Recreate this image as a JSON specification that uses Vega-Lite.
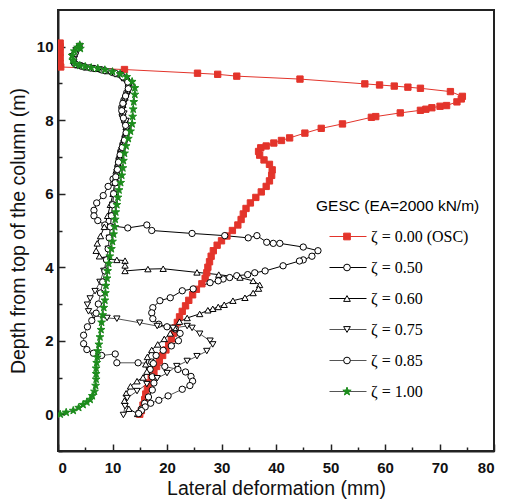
{
"$schema": "https://vega.github.io/schema/vega-lite/v6.json",
"width": 436, "height": 441,
"autosize": {"type": "none"},
"padding": {"left": 58, "top": 10, "right": 12, "bottom": 53},
"config": {
  "view": {"stroke": "#222", "strokeWidth": 2},
  "axis": {"labelFont": "Liberation Sans", "labelFontWeight": "bold", "labelFontSize": 15, "labelColor": "#111",
           "titleFont": "Liberation Sans", "titleFontWeight": "normal", "titleFontSize": 19.5, "titleColor": "#111",
           "domainColor": "#222", "domainWidth": 2, "tickColor": "#222", "tickWidth": 1.5, "grid": false},
  "legend": {"titleFont": "Liberation Sans", "titleFontSize": 15.5, "titleFontWeight": "normal", "titleColor": "#000",
             "labelFont": "Liberation Serif", "labelFontSize": 16, "labelColor": "#000",
             "symbolStrokeWidth": 1, "padding": 0}
},
"data": {"values": [
{"s":"0.00","x":15.0,"y":0.0},{"s":"0.00","x":15.3,"y":0.1},{"s":"0.00","x":15.6,"y":0.25},{"s":"0.00","x":15.9,"y":0.4},{"s":"0.00","x":16.1,"y":0.55},{"s":"0.00","x":16.4,"y":0.7},{"s":"0.00","x":16.7,"y":0.85},{"s":"0.00","x":17.1,"y":1.0},{"s":"0.00","x":17.6,"y":1.15},{"s":"0.00","x":18.1,"y":1.3},{"s":"0.00","x":18.6,"y":1.45},{"s":"0.00","x":19.2,"y":1.6},{"s":"0.00","x":19.8,"y":1.75},{"s":"0.00","x":20.3,"y":1.9},{"s":"0.00","x":20.8,"y":2.05},{"s":"0.00","x":21.2,"y":2.2},{"s":"0.00","x":21.5,"y":2.35},{"s":"0.00","x":21.9,"y":2.5},{"s":"0.00","x":22.3,"y":2.65},{"s":"0.00","x":22.8,"y":2.8},{"s":"0.00","x":23.4,"y":2.95},{"s":"0.00","x":24.0,"y":3.1},{"s":"0.00","x":24.7,"y":3.25},{"s":"0.00","x":25.4,"y":3.4},{"s":"0.00","x":26.4,"y":3.55},{"s":"0.00","x":27.0,"y":3.7},{"s":"0.00","x":27.3,"y":3.85},{"s":"0.00","x":27.5,"y":4.0},{"s":"0.00","x":27.8,"y":4.15},{"s":"0.00","x":28.1,"y":4.3},{"s":"0.00","x":28.5,"y":4.45},{"s":"0.00","x":29.2,"y":4.6},{"s":"0.00","x":30.0,"y":4.72},{"s":"0.00","x":31.0,"y":4.85},{"s":"0.00","x":32.0,"y":5.0},{"s":"0.00","x":33.0,"y":5.15},{"s":"0.00","x":33.6,"y":5.3},{"s":"0.00","x":34.0,"y":5.45},{"s":"0.00","x":34.5,"y":5.6},{"s":"0.00","x":35.3,"y":5.75},{"s":"0.00","x":36.3,"y":5.9},{"s":"0.00","x":37.3,"y":6.05},{"s":"0.00","x":38.2,"y":6.2},{"s":"0.00","x":38.8,"y":6.35},{"s":"0.00","x":39.2,"y":6.5},{"s":"0.00","x":39.3,"y":6.65},{"s":"0.00","x":38.8,"y":6.8},{"s":"0.00","x":37.8,"y":6.92},{"s":"0.00","x":37.0,"y":7.05},{"s":"0.00","x":36.8,"y":7.15},{"s":"0.00","x":37.2,"y":7.25},{"s":"0.00","x":38.2,"y":7.3},{"s":"0.00","x":39.6,"y":7.38},{"s":"0.00","x":41.0,"y":7.45},{"s":"0.00","x":42.5,"y":7.52},{"s":"0.00","x":45.3,"y":7.65},{"s":"0.00","x":48.3,"y":7.78},{"s":"0.00","x":52.2,"y":7.9},{"s":"0.00","x":57.5,"y":8.08},{"s":"0.00","x":58.3,"y":8.1},{"s":"0.00","x":62.8,"y":8.2},{"s":"0.00","x":66.5,"y":8.27},{"s":"0.00","x":67.5,"y":8.3},{"s":"0.00","x":68.6,"y":8.34},{"s":"0.00","x":70.1,"y":8.38},{"s":"0.00","x":71.3,"y":8.4},{"s":"0.00","x":73.2,"y":8.5},{"s":"0.00","x":74.0,"y":8.58},{"s":"0.00","x":74.2,"y":8.65},{"s":"0.00","x":72.0,"y":8.78},{"s":"0.00","x":66.5,"y":8.87},{"s":"0.00","x":64.2,"y":8.9},{"s":"0.00","x":61.7,"y":8.93},{"s":"0.00","x":59.0,"y":8.96},{"s":"0.00","x":56.3,"y":8.99},{"s":"0.00","x":44.4,"y":9.12},{"s":"0.00","x":32.8,"y":9.2},{"s":"0.00","x":29.3,"y":9.25},{"s":"0.00","x":25.6,"y":9.28},{"s":"0.00","x":12.2,"y":9.38},{"s":"0.00","x":0.5,"y":9.45},{"s":"0.00","x":0.4,"y":9.55},{"s":"0.00","x":0.4,"y":9.7},{"s":"0.00","x":0.4,"y":9.85},{"s":"0.00","x":0.4,"y":10.0},{"s":"0.00","x":0.4,"y":10.1},

{"s":"0.50","x":3.9,"y":10.0},{"s":"0.50","x":3.2,"y":9.85},{"s":"0.50","x":2.8,"y":9.7},{"s":"0.50","x":3.0,"y":9.55},{"s":"0.50","x":4.3,"y":9.47},{"s":"0.50","x":6.0,"y":9.42},{"s":"0.50","x":8.0,"y":9.37},{"s":"0.50","x":10.0,"y":9.3},{"s":"0.50","x":11.6,"y":9.22},{"s":"0.50","x":12.6,"y":9.1},{"s":"0.50","x":13.0,"y":8.95},{"s":"0.50","x":12.6,"y":8.75},{"s":"0.50","x":12.1,"y":8.55},{"s":"0.50","x":11.7,"y":8.35},{"s":"0.50","x":11.8,"y":8.15},{"s":"0.50","x":12.3,"y":7.95},{"s":"0.50","x":12.6,"y":7.75},{"s":"0.50","x":12.3,"y":7.55},{"s":"0.50","x":11.9,"y":7.35},{"s":"0.50","x":11.5,"y":7.15},{"s":"0.50","x":11.2,"y":6.95},{"s":"0.50","x":11.0,"y":6.75},{"s":"0.50","x":10.7,"y":6.55},{"s":"0.50","x":10.1,"y":6.4},{"s":"0.50","x":9.2,"y":6.2},{"s":"0.50","x":8.3,"y":5.95},{"s":"0.50","x":7.1,"y":5.75},{"s":"0.50","x":6.6,"y":5.55},{"s":"0.50","x":6.6,"y":5.4},{"s":"0.50","x":7.3,"y":5.27},{"s":"0.50","x":8.6,"y":5.15},{"s":"0.50","x":12.8,"y":5.07},{"s":"0.50","x":16.3,"y":5.15},{"s":"0.50","x":17.2,"y":5.0},{"s":"0.50","x":24.6,"y":4.92},{"s":"0.50","x":30.6,"y":4.86},{"s":"0.50","x":34.9,"y":4.8},{"s":"0.50","x":36.5,"y":4.86},{"s":"0.50","x":38.3,"y":4.68},{"s":"0.50","x":39.5,"y":4.65},{"s":"0.50","x":40.7,"y":4.65},{"s":"0.50","x":45.0,"y":4.55},{"s":"0.50","x":47.7,"y":4.45},{"s":"0.50","x":46.6,"y":4.3},{"s":"0.50","x":45.0,"y":4.2},{"s":"0.50","x":44.3,"y":4.17},{"s":"0.50","x":41.3,"y":4.04},{"s":"0.50","x":38.0,"y":3.9},{"s":"0.50","x":36.1,"y":3.85},{"s":"0.50","x":34.8,"y":3.8},{"s":"0.50","x":32.8,"y":3.77},{"s":"0.50","x":31.5,"y":3.72},{"s":"0.50","x":30.3,"y":3.68},{"s":"0.50","x":29.4,"y":3.63},{"s":"0.50","x":27.9,"y":3.58},{"s":"0.50","x":24.8,"y":3.41},{"s":"0.50","x":22.8,"y":3.36},{"s":"0.50","x":20.6,"y":3.17},{"s":"0.50","x":18.7,"y":3.09},{"s":"0.50","x":17.4,"y":2.9},{"s":"0.50","x":17.2,"y":2.76},{"s":"0.50","x":17.4,"y":2.6},{"s":"0.50","x":18.5,"y":2.45},{"s":"0.50","x":20.0,"y":2.38},{"s":"0.50","x":21.5,"y":2.32},{"s":"0.50","x":22.4,"y":2.2},{"s":"0.50","x":22.1,"y":2.0},{"s":"0.50","x":20.8,"y":1.86},{"s":"0.50","x":19.3,"y":1.74},{"s":"0.50","x":18.0,"y":1.6},{"s":"0.50","x":17.2,"y":1.42},{"s":"0.50","x":16.9,"y":1.22},{"s":"0.50","x":17.3,"y":1.02},{"s":"0.50","x":17.6,"y":0.85},{"s":"0.50","x":17.3,"y":0.66},{"s":"0.50","x":16.6,"y":0.47},{"s":"0.50","x":15.9,"y":0.3},{"s":"0.50","x":15.3,"y":0.14},{"s":"0.50","x":14.8,"y":0.03},

{"s":"0.60","x":3.8,"y":9.98},{"s":"0.60","x":3.0,"y":9.8},{"s":"0.60","x":2.9,"y":9.62},{"s":"0.60","x":3.6,"y":9.5},{"s":"0.60","x":5.2,"y":9.44},{"s":"0.60","x":7.0,"y":9.4},{"s":"0.60","x":9.1,"y":9.34},{"s":"0.60","x":10.9,"y":9.26},{"s":"0.60","x":12.2,"y":9.15},{"s":"0.60","x":12.9,"y":9.0},{"s":"0.60","x":12.8,"y":8.82},{"s":"0.60","x":12.3,"y":8.62},{"s":"0.60","x":11.9,"y":8.42},{"s":"0.60","x":11.9,"y":8.22},{"s":"0.60","x":12.2,"y":8.02},{"s":"0.60","x":12.5,"y":7.82},{"s":"0.60","x":12.4,"y":7.62},{"s":"0.60","x":12.0,"y":7.42},{"s":"0.60","x":11.6,"y":7.22},{"s":"0.60","x":11.3,"y":7.02},{"s":"0.60","x":11.0,"y":6.82},{"s":"0.60","x":10.8,"y":6.6},{"s":"0.60","x":10.4,"y":6.3},{"s":"0.60","x":10.1,"y":6.0},{"s":"0.60","x":9.6,"y":5.7},{"s":"0.60","x":9.1,"y":5.4},{"s":"0.60","x":8.5,"y":5.1},{"s":"0.60","x":7.8,"y":4.85},{"s":"0.60","x":7.2,"y":4.65},{"s":"0.60","x":7.0,"y":4.45},{"s":"0.60","x":7.6,"y":4.3},{"s":"0.60","x":9.0,"y":4.22},{"s":"0.60","x":10.8,"y":4.2},{"s":"0.60","x":12.3,"y":4.18},{"s":"0.60","x":12.3,"y":4.05},{"s":"0.60","x":12.3,"y":3.9},{"s":"0.60","x":16.5,"y":3.95},{"s":"0.60","x":19.3,"y":3.96},{"s":"0.60","x":25.5,"y":3.86},{"s":"0.60","x":29.5,"y":3.8},{"s":"0.60","x":33.4,"y":3.72},{"s":"0.60","x":35.8,"y":3.63},{"s":"0.60","x":37.0,"y":3.52},{"s":"0.60","x":36.8,"y":3.42},{"s":"0.60","x":35.8,"y":3.3},{"s":"0.60","x":34.3,"y":3.17},{"s":"0.60","x":32.1,"y":3.09},{"s":"0.60","x":30.5,"y":2.98},{"s":"0.60","x":29.4,"y":2.92},{"s":"0.60","x":28.4,"y":2.87},{"s":"0.60","x":27.5,"y":2.83},{"s":"0.60","x":26.0,"y":2.73},{"s":"0.60","x":23.7,"y":2.62},{"s":"0.60","x":22.3,"y":2.52},{"s":"0.60","x":21.4,"y":2.35},{"s":"0.60","x":20.6,"y":2.2},{"s":"0.60","x":19.5,"y":2.05},{"s":"0.60","x":18.3,"y":1.9},{"s":"0.60","x":17.2,"y":1.75},{"s":"0.60","x":16.4,"y":1.56},{"s":"0.60","x":16.1,"y":1.36},{"s":"0.60","x":16.3,"y":1.16},{"s":"0.60","x":15.6,"y":1.0},{"s":"0.60","x":14.5,"y":0.9},{"s":"0.60","x":13.3,"y":0.76},{"s":"0.60","x":12.5,"y":0.57},{"s":"0.60","x":12.2,"y":0.37},{"s":"0.60","x":13.0,"y":0.15},{"s":"0.60","x":14.6,"y":0.01},

{"s":"0.75","x":4.0,"y":10.02},{"s":"0.75","x":3.3,"y":9.9},{"s":"0.75","x":2.7,"y":9.74},{"s":"0.75","x":2.9,"y":9.58},{"s":"0.75","x":3.9,"y":9.49},{"s":"0.75","x":5.6,"y":9.43},{"s":"0.75","x":7.5,"y":9.38},{"s":"0.75","x":9.5,"y":9.32},{"s":"0.75","x":11.3,"y":9.24},{"s":"0.75","x":12.4,"y":9.12},{"s":"0.75","x":13.1,"y":8.96},{"s":"0.75","x":12.9,"y":8.78},{"s":"0.75","x":12.4,"y":8.58},{"s":"0.75","x":12.0,"y":8.38},{"s":"0.75","x":12.1,"y":8.18},{"s":"0.75","x":12.5,"y":7.98},{"s":"0.75","x":12.7,"y":7.78},{"s":"0.75","x":12.5,"y":7.58},{"s":"0.75","x":12.1,"y":7.38},{"s":"0.75","x":11.7,"y":7.18},{"s":"0.75","x":11.4,"y":6.98},{"s":"0.75","x":11.1,"y":6.78},{"s":"0.75","x":10.8,"y":6.58},{"s":"0.75","x":10.5,"y":6.3},{"s":"0.75","x":10.3,"y":6.0},{"s":"0.75","x":10.0,"y":5.7},{"s":"0.75","x":9.8,"y":5.4},{"s":"0.75","x":9.6,"y":5.1},{"s":"0.75","x":9.4,"y":4.8},{"s":"0.75","x":9.2,"y":4.5},{"s":"0.75","x":8.9,"y":4.2},{"s":"0.75","x":8.4,"y":3.9},{"s":"0.75","x":7.7,"y":3.6},{"s":"0.75","x":6.8,"y":3.35},{"s":"0.75","x":5.9,"y":3.15},{"s":"0.75","x":5.4,"y":2.98},{"s":"0.75","x":5.6,"y":2.8},{"s":"0.75","x":6.6,"y":2.68},{"s":"0.75","x":9.0,"y":2.62},{"s":"0.75","x":10.8,"y":2.6},{"s":"0.75","x":15.0,"y":2.49},{"s":"0.75","x":18.2,"y":2.4},{"s":"0.75","x":21.1,"y":2.35},{"s":"0.75","x":23.7,"y":2.4},{"s":"0.75","x":24.6,"y":2.35},{"s":"0.75","x":26.0,"y":2.19},{"s":"0.75","x":27.9,"y":2.0},{"s":"0.75","x":28.4,"y":1.9},{"s":"0.75","x":27.3,"y":1.72},{"s":"0.75","x":25.5,"y":1.58},{"s":"0.75","x":23.7,"y":1.45},{"s":"0.75","x":21.8,"y":1.31},{"s":"0.75","x":20.0,"y":1.12},{"s":"0.75","x":18.2,"y":0.98},{"s":"0.75","x":16.3,"y":0.82},{"s":"0.75","x":14.5,"y":0.63},{"s":"0.75","x":12.7,"y":0.44},{"s":"0.75","x":12.3,"y":0.22},{"s":"0.75","x":12.0,"y":-0.02},

{"s":"0.85","x":3.7,"y":9.96},{"s":"0.85","x":3.1,"y":9.82},{"s":"0.85","x":2.8,"y":9.66},{"s":"0.85","x":3.3,"y":9.52},{"s":"0.85","x":4.8,"y":9.46},{"s":"0.85","x":6.6,"y":9.41},{"s":"0.85","x":8.6,"y":9.35},{"s":"0.85","x":10.5,"y":9.28},{"s":"0.85","x":11.9,"y":9.18},{"s":"0.85","x":12.8,"y":9.04},{"s":"0.85","x":12.9,"y":8.86},{"s":"0.85","x":12.4,"y":8.66},{"s":"0.85","x":11.9,"y":8.46},{"s":"0.85","x":11.7,"y":8.26},{"s":"0.85","x":12.0,"y":8.06},{"s":"0.85","x":12.4,"y":7.86},{"s":"0.85","x":12.5,"y":7.66},{"s":"0.85","x":12.2,"y":7.46},{"s":"0.85","x":11.8,"y":7.26},{"s":"0.85","x":11.4,"y":7.06},{"s":"0.85","x":11.1,"y":6.86},{"s":"0.85","x":10.9,"y":6.66},{"s":"0.85","x":10.6,"y":6.46},{"s":"0.85","x":10.5,"y":6.3},{"s":"0.85","x":10.2,"y":6.0},{"s":"0.85","x":10.0,"y":5.7},{"s":"0.85","x":9.8,"y":5.4},{"s":"0.85","x":9.6,"y":5.1},{"s":"0.85","x":9.4,"y":4.8},{"s":"0.85","x":9.2,"y":4.5},{"s":"0.85","x":8.9,"y":4.2},{"s":"0.85","x":8.6,"y":3.9},{"s":"0.85","x":8.2,"y":3.6},{"s":"0.85","x":7.8,"y":3.3},{"s":"0.85","x":7.4,"y":3.0},{"s":"0.85","x":7.0,"y":2.75},{"s":"0.85","x":6.2,"y":2.55},{"s":"0.85","x":5.4,"y":2.38},{"s":"0.85","x":4.7,"y":2.15},{"s":"0.85","x":4.7,"y":1.92},{"s":"0.85","x":5.3,"y":1.76},{"s":"0.85","x":6.5,"y":1.66},{"s":"0.85","x":8.0,"y":1.6},{"s":"0.85","x":10.5,"y":1.64},{"s":"0.85","x":10.8,"y":1.4},{"s":"0.85","x":14.7,"y":1.4},{"s":"0.85","x":17.5,"y":1.38},{"s":"0.85","x":19.6,"y":1.3},{"s":"0.85","x":22.0,"y":1.22},{"s":"0.85","x":23.4,"y":1.15},{"s":"0.85","x":24.4,"y":1.03},{"s":"0.85","x":24.7,"y":0.9},{"s":"0.85","x":24.2,"y":0.78},{"s":"0.85","x":22.8,"y":0.68},{"s":"0.85","x":20.2,"y":0.5},{"s":"0.85","x":18.5,"y":0.38},{"s":"0.85","x":17.0,"y":0.3},{"s":"0.85","x":16.0,"y":0.2},{"s":"0.85","x":15.3,"y":0.1},{"s":"0.85","x":14.8,"y":0.02},

{"s":"1.00","x":0.4,"y":0.0},{"s":"1.00","x":1.5,"y":0.05},{"s":"1.00","x":2.8,"y":0.1},{"s":"1.00","x":3.8,"y":0.18},{"s":"1.00","x":4.6,"y":0.26},{"s":"1.00","x":5.3,"y":0.33},{"s":"1.00","x":5.9,"y":0.4},{"s":"1.00","x":6.3,"y":0.5},{"s":"1.00","x":6.7,"y":0.62},{"s":"1.00","x":6.9,"y":0.78},{"s":"1.00","x":7.0,"y":0.95},{"s":"1.00","x":7.0,"y":1.1},{"s":"1.00","x":7.0,"y":1.25},{"s":"1.00","x":7.1,"y":1.4},{"s":"1.00","x":7.2,"y":1.55},{"s":"1.00","x":7.3,"y":1.72},{"s":"1.00","x":7.5,"y":1.9},{"s":"1.00","x":7.7,"y":2.1},{"s":"1.00","x":7.9,"y":2.3},{"s":"1.00","x":8.0,"y":2.5},{"s":"1.00","x":8.2,"y":2.7},{"s":"1.00","x":8.4,"y":2.9},{"s":"1.00","x":8.6,"y":3.1},{"s":"1.00","x":8.7,"y":3.3},{"s":"1.00","x":8.8,"y":3.5},{"s":"1.00","x":9.0,"y":3.7},{"s":"1.00","x":9.1,"y":3.9},{"s":"1.00","x":9.3,"y":4.1},{"s":"1.00","x":9.5,"y":4.3},{"s":"1.00","x":9.8,"y":4.5},{"s":"1.00","x":10.0,"y":4.7},{"s":"1.00","x":10.2,"y":4.9},{"s":"1.00","x":10.4,"y":5.1},{"s":"1.00","x":10.5,"y":5.3},{"s":"1.00","x":10.6,"y":5.5},{"s":"1.00","x":10.8,"y":5.7},{"s":"1.00","x":11.0,"y":5.9},{"s":"1.00","x":11.2,"y":6.1},{"s":"1.00","x":11.5,"y":6.3},{"s":"1.00","x":11.7,"y":6.5},{"s":"1.00","x":11.9,"y":6.7},{"s":"1.00","x":12.0,"y":6.9},{"s":"1.00","x":12.2,"y":7.1},{"s":"1.00","x":12.5,"y":7.3},{"s":"1.00","x":12.9,"y":7.5},{"s":"1.00","x":13.3,"y":7.7},{"s":"1.00","x":13.6,"y":7.9},{"s":"1.00","x":13.7,"y":8.1},{"s":"1.00","x":13.8,"y":8.3},{"s":"1.00","x":13.9,"y":8.5},{"s":"1.00","x":14.1,"y":8.7},{"s":"1.00","x":14.1,"y":8.88},{"s":"1.00","x":13.6,"y":9.05},{"s":"1.00","x":12.6,"y":9.18},{"s":"1.00","x":11.4,"y":9.26},{"s":"1.00","x":10.0,"y":9.32},{"s":"1.00","x":8.6,"y":9.37},{"s":"1.00","x":7.3,"y":9.41},{"s":"1.00","x":6.1,"y":9.43},{"s":"1.00","x":5.0,"y":9.46},{"s":"1.00","x":4.0,"y":9.49},{"s":"1.00","x":3.2,"y":9.53},{"s":"1.00","x":2.7,"y":9.63},{"s":"1.00","x":2.6,"y":9.76},{"s":"1.00","x":3.0,"y":9.88},{"s":"1.00","x":3.6,"y":9.98},{"s":"1.00","x":4.0,"y":10.05},{"s":"1.00","x":4.1,"y":9.95}
]},
"layer": [
  {
    "mark": {"type": "line", "strokeWidth": 1, "clip": true},
    "encoding": {
      "x": {"field": "x", "type": "quantitative", "scale": {"domain": [0, 80], "nice": false, "zero": false},
            "axis": {"orient": "bottom", "values": [0,10,20,30,40,50,60,70,80], "tickSize": -7, "labelPadding": 16, "title": "Lateral deformation (mm)", "titlePadding": 4}},
      "y": {"field": "y", "type": "quantitative", "scale": {"domain": [-1, 11], "nice": false, "zero": false},
            "axis": {"orient": "left", "values": [0,2,4,6,8,10], "tickSize": -7, "labelPadding": 12, "title": "Depth from top of the column (m)", "titlePadding": 8}},
      "color": {"field": "s", "type": "nominal",
                "scale": {"range": ["#e3342b","#000000","#000000","#555555","#555555","#555555"]},
                "legend": {"title": " ", "labelExpr": "' '", "orient": "none", "legendX": 258, "legendY": 189,
                           "symbolType": "M-7.4,0L7.4,0", "symbolSize": 25, "symbolStrokeWidth": 1, "symbolOffset": 24,
                           "rowPadding": 15, "titlePadding": 14, "labelOffset": 16}},
      "order": {"value": null}
    }
  },
  {
    "mark": {"type": "point", "size": 40, "strokeWidth": 1, "opacity": 1, "fillOpacity": 1, "clip": true},
    "encoding": {
      "x": {"field": "x", "type": "quantitative",
            "axis": {"orient": "bottom", "values": [5,15,25,35,45,55,65,75], "tickSize": -4, "labels": false, "domain": false, "title": null}},
      "y": {"field": "y", "type": "quantitative",
            "axis": {"orient": "left", "values": [-1,1,3,5,7,9], "tickSize": -4, "labels": false, "domain": false, "title": null}},
      "shape": {"field": "s", "type": "nominal",
                "scale": {"domain": ["0.00","0.50","0.60","0.75","0.85","1.00"],
                          "range": ["square","circle","triangle-up","triangle-down","circle","M0,-1.3L0.305,-0.421L1.236,-0.402L0.494,0.161L0.764,1.052L0,0.52L-0.764,1.052L-0.494,0.161L-1.236,-0.402L-0.305,-0.421Z"]},
                "legend": {"title": "GESC (EA=2000 kN/m)", "orient": "none", "legendX": 258, "legendY": 189,
                           "labelExpr": "'ζ = ' + datum.label + (datum.label == '0.00' ? ' (OSC)' : '')",
                           "symbolSize": 45, "symbolOffset": 23, "labelOffset": 16, "rowPadding": 15, "titlePadding": 14}},
      "fill": {"field": "s", "type": "nominal",
               "scale": {"domain": ["0.00","0.50","0.60","0.75","0.85","1.00"], "range": ["#e3342b","#ffffff","#ffffff","#ffffff","#ffffff","#1c8c1c"]},
               "legend": {"title": "GESC (EA=2000 kN/m)", "orient": "none", "legendX": 258, "legendY": 189,
                          "labelExpr": "'ζ = ' + datum.label + (datum.label == '0.00' ? ' (OSC)' : '')",
                          "symbolSize": 45, "symbolOffset": 23, "labelOffset": 16, "rowPadding": 15, "titlePadding": 14}},
      "stroke": {"field": "s", "type": "nominal",
                 "scale": {"domain": ["0.00","0.50","0.60","0.75","0.85","1.00"], "range": ["#e3342b","#000000","#000000","#000000","#000000","#1c8c1c"]},
                 "legend": {"title": "GESC (EA=2000 kN/m)", "orient": "none", "legendX": 258, "legendY": 189,
                            "labelExpr": "'ζ = ' + datum.label + (datum.label == '0.00' ? ' (OSC)' : '')",
                            "symbolSize": 45, "symbolOffset": 23, "labelOffset": 16, "rowPadding": 15, "titlePadding": 14}}
    }
  }
],
"resolve": {"axis": {"x": "independent", "y": "independent"}}
}
